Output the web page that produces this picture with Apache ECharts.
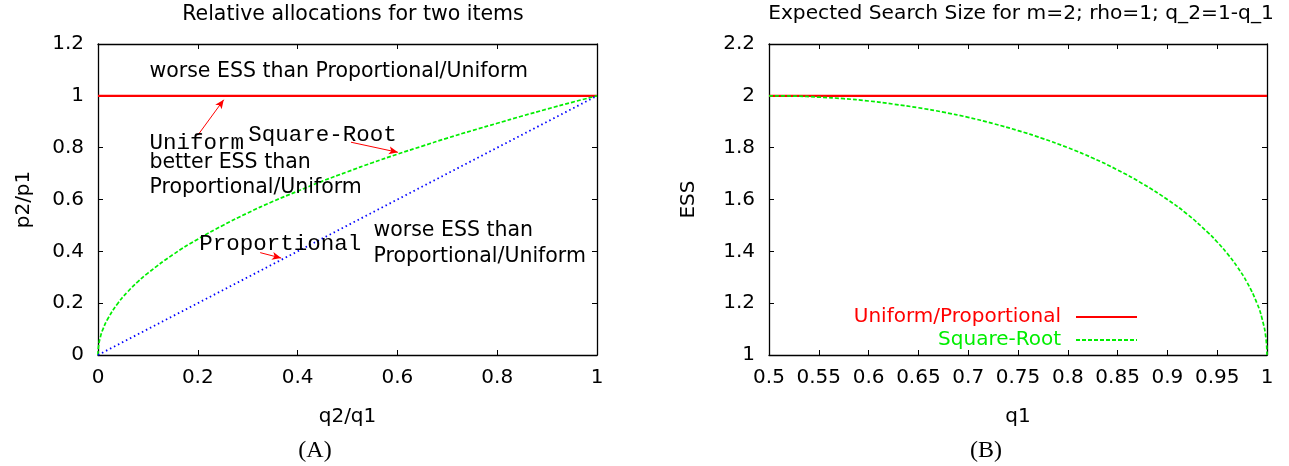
<!DOCTYPE html>
<html>
<head>
<meta charset="utf-8">
<script src="https://cdn.jsdelivr.net/npm/echarts@6/dist/echarts.min.js"></script>
<style>
html,body{margin:0;padding:0;background:#fff;}
#c{width:1289px;height:466px;}
</style>
</head>
<body>
<div id="c"></div>
<script>
// ---------- Panel A data ----------
const ratioX = [0, 0.001, 0.005, 0.01, 0.02, 0.04, 0.06, 0.08, 0.1, 0.15, 0.2, 0.25, 0.3, 0.35, 0.4, 0.45, 0.5, 0.55, 0.6, 0.65, 0.7, 0.75, 0.8, 0.85, 0.9, 0.95, 1];
const sqrtRootRatio = [0, 0.032, 0.071, 0.1, 0.141, 0.2, 0.245, 0.283, 0.316, 0.387, 0.447, 0.5, 0.548, 0.592, 0.632, 0.671, 0.707, 0.742, 0.775, 0.806, 0.837, 0.866, 0.894, 0.922, 0.949, 0.975, 1];
const uniformLineA = [[0, 1], [1, 1]];
const proportionalLineA = [[0, 0], [1, 1]];
const sansNotesA = [
  [0.102, 1.092, 'worse ESS than Proportional/Uniform'],
  [0.102, 0.743, 'better ESS than'],
  [0.102, 0.645, 'Proportional/Uniform'],
  [0.551, 0.48, 'worse ESS than'],
  [0.551, 0.379, 'Proportional/Uniform']
];
const monoNotesA = [
  [0.102, 0.817, 'Uniform'],
  [0.30, 0.848, 'Square-Root'],
  [0.202, 0.43, 'Proportional']
];
const arrowsA = [
  [[0.200, 0.848], [0.252, 0.985]],
  [[0.507, 0.821], [0.601, 0.782]],
  [[0.325, 0.395], [0.367, 0.374]]
];
const ticksA_x = {min: 0, max: 1, interval: 0.2};
const ticksA_y = {min: 0, max: 1.2, interval: 0.2};

// ---------- Panel B data ----------
const q1 = [0.5, 0.525, 0.55, 0.575, 0.6, 0.625, 0.65, 0.675, 0.7, 0.725, 0.75, 0.775, 0.8, 0.825, 0.85, 0.875, 0.9, 0.92, 0.94, 0.95, 0.96, 0.97, 0.98, 0.99, 0.995, 0.999, 1];
const essSquareRoot = [2, 1.999, 1.995, 1.989, 1.980, 1.968, 1.954, 1.937, 1.917, 1.893, 1.866, 1.835, 1.8, 1.760, 1.714, 1.661, 1.6, 1.543, 1.475, 1.436, 1.392, 1.341, 1.28, 1.199, 1.141, 1.063, 1];
const essUniform = [[0.5, 2], [1, 2]];
const ticksB_x = {min: 0.5, max: 1, interval: 0.05};
const ticksB_y = {min: 1, max: 2.2, interval: 0.2};

const SANS = 'DejaVu Sans';
const MONO = 'Liberation Mono';
const SERIF = 'Liberation Serif';
const RED = '#ff0000', GREEN = '#00ee00', BLUE = '#0000ff';

function mainAxis(t, pos, gridIndex, name, nameGap, isY) {
  return {
    type: 'value', gridIndex, position: pos,
    min: t.min, max: t.max, interval: t.interval,
    name, nameLocation: 'middle', nameGap,
    nameRotate: isY ? 90 : 0,
    nameTextStyle: {fontFamily: SANS, fontSize: 20, color: '#000'},
    axisLine: {show: true, onZero: false, lineStyle: {color: '#000', width: 1.3}},
    axisTick: {show: true, inside: true, length: 5, lineStyle: {color: '#000', width: 1}},
    axisLabel: {show: true, margin: isY ? 14 : 13, fontFamily: SANS, fontSize: 20, color: '#000'},
    splitLine: {show: false}
  };
}
function mirrorAxis(t, pos, gridIndex) {
  return {
    type: 'value', gridIndex, position: pos,
    min: t.min, max: t.max, interval: t.interval,
    axisLine: {show: true, onZero: false, lineStyle: {color: '#000', width: 1.3}},
    axisTick: {show: true, inside: true, length: 5, lineStyle: {color: '#000', width: 1}},
    axisLabel: {show: false},
    splitLine: {show: false}
  };
}

const option = {
  animation: false,
  backgroundColor: '#fff',
  title: [
    {text: 'Relative allocations for two items', left: 348, top: -1, textAlign: 'center',
     textStyle: {fontFamily: SANS, fontSize: 20.5, fontWeight: 'normal', color: '#000'}},
    {text: 'Expected Search Size for m=2; rho=1; q_2=1-q_1', left: 1016, top: -1, textAlign: 'center',
     textStyle: {fontFamily: SANS, fontSize: 20.2, fontWeight: 'normal', color: '#000'}},
    {text: '(A)', left: 310, top: 434, textAlign: 'center',
     textStyle: {fontFamily: SERIF, fontSize: 24, fontWeight: 'normal', color: '#000'}},
    {text: '(B)', left: 981, top: 434, textAlign: 'center',
     textStyle: {fontFamily: SERIF, fontSize: 24, fontWeight: 'normal', color: '#000'}}
  ],
  legend: {
    orient: 'vertical', align: 'right', right: 146, top: 302,
    itemWidth: 61, itemHeight: 14, itemGap: 3,
    itemStyle: {opacity: 0},
    textStyle: {fontFamily: SANS, fontSize: 20, lineHeight: 20, padding: [0, 10, 0, 0]},
    data: [
      {name: 'Uniform/Proportional', textStyle: {color: RED}},
      {name: 'Square-Root', textStyle: {color: GREEN}}
    ]
  },
  grid: [
    {left: 98, right: 692, top: 44, bottom: 111},
    {left: 769, right: 22, top: 44, bottom: 111}
  ],
  xAxis: [
    mainAxis(ticksA_x, 'bottom', 0, 'q2/q1', 52, false),
    mirrorAxis(ticksA_x, 'top', 0),
    mainAxis(ticksB_x, 'bottom', 1, 'q1', 52, false),
    mirrorAxis(ticksB_x, 'top', 1)
  ],
  yAxis: [
    mainAxis(ticksA_y, 'left', 0, 'p2/p1', 64, true),
    mirrorAxis(ticksA_y, 'right', 0),
    mainAxis(ticksB_y, 'left', 1, 'ESS', 70, true),
    mirrorAxis(ticksB_y, 'right', 1)
  ],
  series: [
    {type: 'line', name: 'A-uniform', xAxisIndex: 0, yAxisIndex: 0, data: uniformLineA,
     symbol: 'none', lineStyle: {color: RED, width: 2.2}, z: 3},
    {type: 'line', name: 'A-squareroot', xAxisIndex: 0, yAxisIndex: 0,
     data: ratioX.map((x, i) => [x, sqrtRootRatio[i]]), smooth: true,
     symbol: 'none', lineStyle: {color: GREEN, width: 1.7, type: [4, 2]}, z: 3},
    {type: 'line', name: 'A-proportional', xAxisIndex: 0, yAxisIndex: 0, data: proportionalLineA,
     symbol: 'none', lineStyle: {color: BLUE, width: 1.8, type: [1.5, 3]}, z: 3},
    {type: 'line', name: 'A-arrows', xAxisIndex: 0, yAxisIndex: 0, data: [], silent: true,
     markLine: {silent: true, animation: false, symbol: ['none', 'arrow'], symbolSize: [6, 9],
       label: {show: false}, lineStyle: {color: RED, width: 1, type: 'solid'},
       data: arrowsA.map(a => [{coord: a[0]}, {coord: a[1]}])}},
    {type: 'scatter', name: 'A-sans', xAxisIndex: 0, yAxisIndex: 0, silent: true,
     symbolSize: 1, itemStyle: {color: 'rgba(0,0,0,0)', opacity: 1},
     data: sansNotesA, z: 5,
     label: {show: true, position: 'right', distance: 0, formatter: p => p.data[2],
       fontFamily: SANS, fontSize: 20.5, color: '#000', opacity: 1}},
    {type: 'scatter', name: 'A-mono', xAxisIndex: 0, yAxisIndex: 0, silent: true,
     symbolSize: 1, itemStyle: {color: 'rgba(0,0,0,0)', opacity: 1},
     data: monoNotesA, z: 5,
     label: {show: true, position: 'right', distance: 0, formatter: p => p.data[2],
       fontFamily: MONO, fontSize: 22.5, color: '#000', opacity: 1}},
    {type: 'line', name: 'Uniform/Proportional', xAxisIndex: 2, yAxisIndex: 2, data: essUniform,
     symbol: 'none', color: RED, lineStyle: {color: RED, width: 2.2}, z: 3},
    {type: 'line', name: 'Square-Root', xAxisIndex: 2, yAxisIndex: 2,
     data: q1.map((x, i) => [x, essSquareRoot[i]]), smooth: true,
     symbol: 'none', color: GREEN, lineStyle: {color: GREEN, width: 1.7, type: [4, 2]}, z: 3}
  ]
};
const chart = echarts.init(document.getElementById('c'), null, {renderer: 'canvas'});
chart.setOption(option);
</script>
</body>
</html>
